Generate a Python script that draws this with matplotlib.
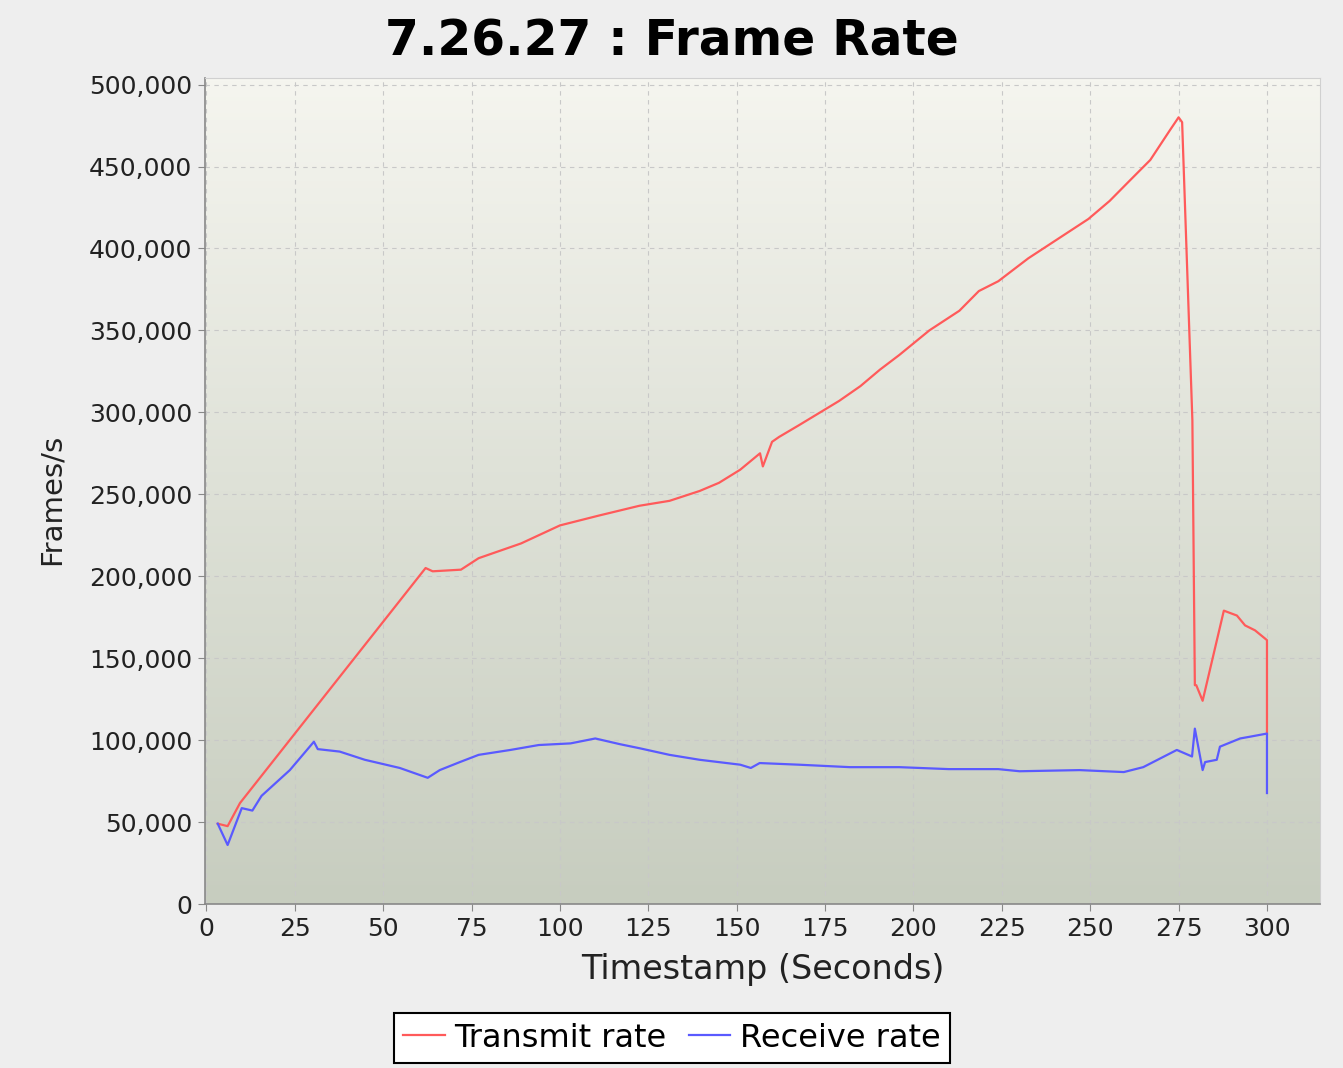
import matplotlib
matplotlib.use("Agg")
import matplotlib.pyplot as plt
import numpy as np
from matplotlib.ticker import FuncFormatter

tx_t = [3.2, 6, 9.5, 62, 64, 72, 77, 89, 100, 111, 122.5, 131, 139.5, 145, 151, 156.6, 157.4,
        160, 162, 167.5, 179, 185, 190.5, 196, 204.5, 213, 218.5, 224, 232.5, 241, 249.5,
        255.5, 261, 267, 272.5, 275, 276, 278.9, 279.6, 280, 281.8, 287.8, 291.5, 293.8,
        296.6, 300, 300]
tx_v = [49000, 47500, 61600, 205000, 203000, 204000, 211000, 220000, 231000, 237000, 243000,
        246000, 252000, 257000, 265000, 275000, 267000, 282000, 285000, 292000, 307000, 316000,
        326000, 335000, 350000, 362000, 374000, 380000, 394000, 406000, 418000, 429000, 441000,
        454000, 472000, 480000, 477000, 295000, 133500, 133500, 124000, 179000, 176000, 170000,
        167000, 161000, 104000]

rx_t = [3.2, 6, 10, 13, 15.6, 23.6, 30.4, 31.5, 37.7, 44.8, 54.7, 62.6, 66, 71.7, 77, 86, 94,
        103, 110, 117, 122.6, 131, 139.5, 151, 154, 156.5, 167.6, 182, 196, 210, 224, 230, 247,
        259.5, 265, 274.5, 278.8, 279.6, 281.8, 282.5, 285.8, 286.7, 292.4, 295, 300, 300]
rx_v = [49000, 36000, 58500, 57000, 66000, 81700, 99000, 94500, 93000, 88000, 83000, 77000,
        81700, 86600, 91000, 94000, 97000, 98000, 101000, 97500, 95000, 91000, 88000, 85000,
        83000, 86000, 85000, 83500, 83500, 82300, 82300, 81000, 81700, 80500, 83500, 94000,
        90000, 107000, 81700, 86600, 88000, 96000, 101000, 102000, 104000, 67700]

x_ticks = [0, 25, 50, 75, 100, 125, 150, 175, 200, 225, 250, 275, 300]
y_ticks = [0, 50000, 100000, 150000, 200000, 250000, 300000, 350000, 400000, 450000, 500000]

fig = plt.figure(figsize=(13.43, 10.68), dpi=100, facecolor="#eeeeee")
ax = fig.add_axes([205/1343, 1-904/1068, (1320-205)/1343, (904-78)/1068])

# gradient background
grad = np.linspace(0, 1, 256).reshape(-1, 1)
top = np.array([245, 245, 239]) / 255
bot = np.array([199, 205, 191]) / 255
img = top[None, None, :] * (1 - grad[:, :, None]) + bot[None, None, :] * grad[:, :, None]
ax.imshow(img, extent=[0, 1, 0, 1], transform=ax.transAxes, aspect="auto", zorder=0)

ax.plot(tx_t, tx_v, color="#ff5a5a", lw=1.6, label="Transmit rate", zorder=3)
ax.plot(rx_t, rx_v, color="#5a5aff", lw=1.6, label="Receive rate", zorder=3)

ax.set_xlim(-0.4, 315)
ax.set_ylim(0, 504000)
ax.set_xticks(x_ticks)
ax.set_yticks(y_ticks)
ax.yaxis.set_major_formatter(FuncFormatter(lambda v, p: f"{int(v):,}"))
ax.grid(True, color="#c8c8c8", linestyle=(0, (4, 4)), lw=0.8, zorder=1)
ax.set_axisbelow(True)

for s in ["top", "right"]:
    ax.spines[s].set_color("#d0d0d0")
for s in ["left", "bottom"]:
    ax.spines[s].set_color("#888888")
    ax.spines[s].set_linewidth(1.2)
ax.tick_params(axis="both", labelsize=18, colors="#222222", length=5, color="#888888", pad=4)

ax.set_xlabel("Timestamp (Seconds)", fontsize=24, color="#222222", labelpad=9)
ax.set_ylabel("Frames/s", fontsize=21, color="#222222")
ax.yaxis.set_label_coords(-0.125, 0.49)
fig.text(672/1343, 1-55/1068, "7.26.27 : Frame Rate", fontsize=35, fontweight="bold",
         ha="center", va="baseline")

leg = fig.legend(loc="upper center", bbox_to_anchor=(672/1343, 1-1013/1068), ncol=2,
                 fontsize=23, frameon=True, fancybox=False, handlelength=1.3,
                 handletextpad=0.3, columnspacing=0.7, borderpad=0.3, borderaxespad=0)
leg.get_frame().set_edgecolor("black")
leg.get_frame().set_linewidth(1.5)
leg.get_frame().set_facecolor("white")
leg.get_frame().set_alpha(1)

fig.savefig("out.png", dpi=100, facecolor=fig.get_facecolor())
